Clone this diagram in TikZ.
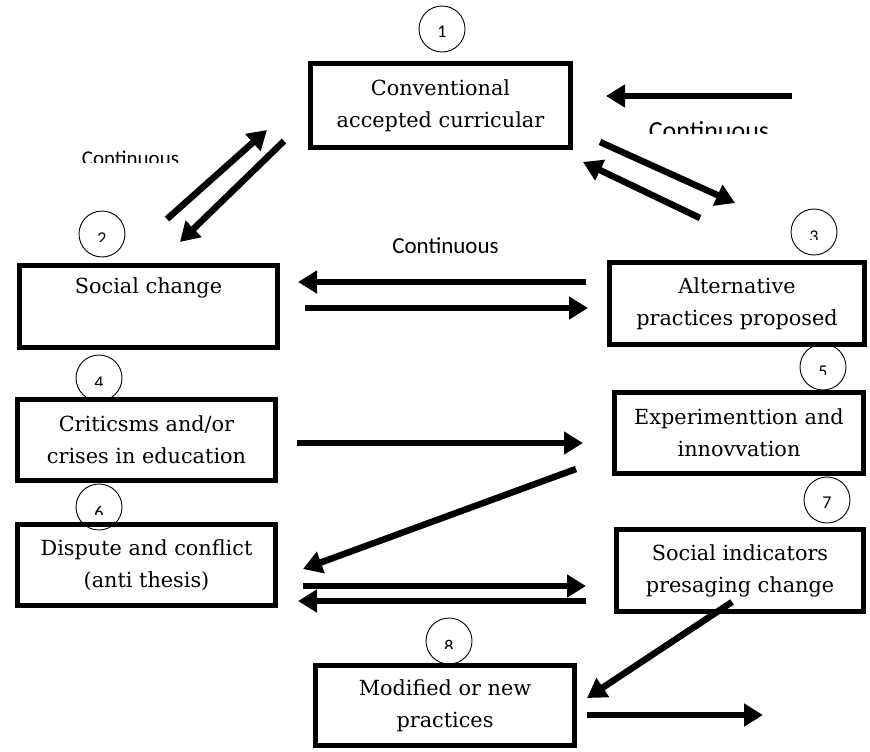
\documentclass[tikz,border=0pt]{standalone}
\usepackage{fontspec}
\setmainfont{DejaVu Serif}
\newfontfamily\contfont{Carlito}
\usetikzlibrary{arrows.meta}
\begin{document}
\begin{tikzpicture}[x=1pt,y=-1pt,
  boxnode/.style={draw, line width=5pt, inner sep=0pt, align=center,
    font=\fontsize{20.8}{32}\selectfont},
  numcirc/.style={draw, circle, line width=0.9pt, minimum size=46pt, inner sep=0pt, fill=white},
  numtext/.style={font=\contfont\fontsize{18}{18}\selectfont, inner sep=0pt},
  conttext/.style={font=\contfont, inner sep=0pt, anchor=north},
  arr/.style={line width=6.5pt, -{Triangle[length=19pt,width=22pt]}}]
\useasboundingbox (0,0) rectangle (870,752);

% number circles
\node[numcirc] (c1) at (442,29) {};
\node[numcirc] (c2) at (102,234) {};
\node[numcirc] (c3) at (814,232) {};
\node[numcirc] (c4) at (99,378) {};
\node[numcirc] (c5) at (823,367) {};
\node[numcirc] (c6) at (99,507) {};
\node[numcirc] (c7) at (827,500) {};
\node[numcirc] (c8) at (449,641) {};

\node[numtext] (n1) at (442,32) {1};
\node[numtext] (n7) at (827,503) {7};
\begin{scope}\clip (80,220) rectangle (124,241);\node[numtext] (n2) at (102,239) {2};\end{scope}
\begin{scope}\clip (792,218) rectangle (836,239);\node[numtext] (n3) at (814,237) {3};\end{scope}
\begin{scope}\clip (77,364) rectangle (121,385);\node[numtext] (n4) at (99,383) {4};\end{scope}
\begin{scope}\clip (801,353) rectangle (845,374);\node[numtext] (n5) at (823,372) {5};\end{scope}
\begin{scope}\clip (77,493) rectangle (121,514);\node[numtext] (n6) at (99,512) {6};\end{scope}
\begin{scope}\clip (427,627) rectangle (471,648);\node[numtext] (n8) at (449,646) {8};\end{scope}

% boxes
\node[boxnode, minimum width=260pt, minimum height=84pt] (b1) at (440.5,105.5) {Conventional\\accepted curricular};
\node[boxnode, minimum width=258pt, minimum height=82pt] (b2) at (148.5,306.5) {Social change\\\strut};
\node[boxnode, minimum width=255pt, minimum height=82pt] (b3) at (737,303.5) {Alternative\\practices proposed};
\node[boxnode, minimum width=258pt, minimum height=81pt] (b4) at (146.5,440) {Criticsms and/or\\crises in education};
\node[boxnode, minimum width=249pt, minimum height=81pt] (b5) at (739,433) {Experimenttion and\\innovvation};
\node[boxnode, minimum width=258pt, minimum height=81pt] (b6) at (146.5,565) {Dispute and conflict\\(anti thesis)};
\node[boxnode, minimum width=247pt, minimum height=82pt] (b7) at (740,570.5) {Social indicators\\presaging change};
\node[boxnode, minimum width=259pt, minimum height=80pt] (b8) at (445,705.5) {Modified or new\\practices};

% Continuous labels
\begin{scope}\clip (600,100) rectangle (800,133);
\node[conttext, font=\contfont\fontsize{26}{26}\selectfont] (t1) at (709,121) {Continuous};
\end{scope}
\begin{scope}\clip (60,140) rectangle (200,162);
\node[conttext, font=\contfont\fontsize{21}{21}\selectfont] (t2) at (130.5,151) {Continuous};
\end{scope}
\node[font=\contfont\fontsize{23}{23}\selectfont, inner sep=0pt] (t3) at (445.5,246) {Continuous};

% arrow coordinates
\coordinate (a1s) at (792,96);  \coordinate (a1e) at (606,96);
\coordinate (a2s) at (600,142); \coordinate (a2e) at (735,203);
\coordinate (a3s) at (700,218); \coordinate (a3e) at (583,162);
\coordinate (a4s) at (167,219); \coordinate (a4e) at (267,130);
\coordinate (a5s) at (284,141); \coordinate (a5e) at (180,242);
\coordinate (a6s) at (586,282); \coordinate (a6e) at (298,282);
\coordinate (a7s) at (305,308); \coordinate (a7e) at (588,308);
\coordinate (a8s) at (297,443); \coordinate (a8e) at (583,443);
\coordinate (a9s) at (576,469); \coordinate (a9e) at (303,569);
\coordinate (a10s) at (303,586); \coordinate (a10e) at (586,586);
\coordinate (a11s) at (586,601); \coordinate (a11e) at (298,601);
\coordinate (a12s) at (732,602); \coordinate (a12e) at (587,698);
\coordinate (a13s) at (587,715); \coordinate (a13e) at (763,715);

\foreach \i in {1,...,13} {\draw[arr] (a\i s) -- (a\i e);}
\end{tikzpicture}
\end{document}
